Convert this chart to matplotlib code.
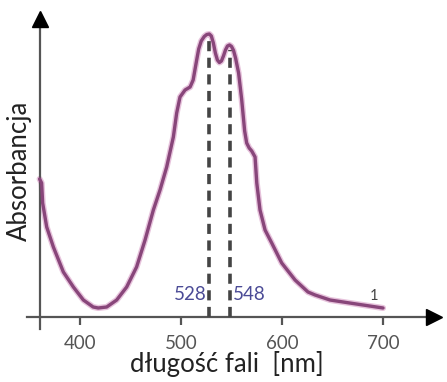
import matplotlib.pyplot as plt
import numpy as np

# absorption spectrum (arbitrary absorbance units)
wavelength = [360, 362, 363, 367, 373.6, 383.5, 393.4, 403.3, 413, 418, 426.4,
              436.3, 446.2, 456, 464.4, 472.6, 479.2, 485.8, 492.4, 495.7, 499,
              504, 509, 512, 515.5, 517.5, 520, 523, 525.5, 528, 530, 532, 534,
              536, 538, 540, 542, 544, 546, 548, 550, 552, 554, 557, 560, 563,
              565, 567.5, 570, 573.3, 575, 578.2, 583.2, 589.8, 599.7, 612.9,
              625.7, 632.7, 647.5, 667, 700]
absorbance = [138, 134, 114, 90, 70, 45, 30, 17, 10, 9, 10,
              17, 30, 50, 77, 107, 127, 150, 180, 204, 220,
              227, 230, 237, 257, 268, 276, 280.5, 282.5, 283, 281, 274, 264,
              257, 254.5, 256, 261, 267, 271, 272, 270.5, 266.5, 259, 244, 218, 186,
              174, 169, 166, 160, 134, 107, 87, 74, 54, 37,
              25, 22, 17, 14, 9]

peak_nm = [528, 548]
peak_top = [277, 267]
xticks = [400, 500, 600, 700]

curve_color = '#88467a'
axis_color = '#555555'

plt.rcParams['font.family'] = ['Lato', 'DejaVu Sans']

fig = plt.figure(figsize=(4.47, 3.82), dpi=100)
W, H = 447, 382
# axes placed in pixel terms: left 27, right 441, top 10, bottom 330
ax = fig.add_axes([27 / W, (H - 330) / H, (441 - 27) / W, (330 - 10) / H])
ax.set_xlim(347.5, 757.4)
ax.set_ylim(-13, 307)

ax.plot(wavelength, absorbance, color='#e7c3dc', lw=4.4, solid_joinstyle='round',
        solid_capstyle='round', zorder=2)
ax.plot(wavelength, absorbance, color=curve_color, lw=2.4, solid_joinstyle='round',
        solid_capstyle='round', zorder=3)

ax.vlines(peak_nm, 0, peak_top, colors='#444444', linestyles=(0, (2.8, 1.8)),
          lw=2.6, zorder=4)

ax.text(peak_nm[0] - 3, 17, str(peak_nm[0]), color='#4b4b96', fontsize=13.5,
        ha='right', va='baseline')
ax.text(peak_nm[1] + 3, 17, str(peak_nm[1]), color='#4b4b96', fontsize=13.5,
        ha='left', va='baseline')
ax.text(691, 17, '1', color='#444444', fontsize=10.5, ha='center', va='baseline')

# axes as arrows
for s in ['top', 'right']:
    ax.spines[s].set_visible(False)
ax.spines['bottom'].set_position(('data', 0))
ax.spines['bottom'].set_bounds(347.5, 745)
ax.spines['left'].set_position(('data', 360))
ax.spines['left'].set_bounds(-12, 295)
for s in ['bottom', 'left']:
    ax.spines[s].set_color(axis_color)
    ax.spines[s].set_linewidth(1.6)
ax.plot([750], [0], marker='>', color='black', markersize=11, clip_on=False, zorder=5)
ax.plot([360], [298], marker='^', color='black', markersize=11, clip_on=False, zorder=5)

ax.set_xticks(xticks)
ax.tick_params(axis='x', direction='out', length=6, width=1.6, color=axis_color,
               labelcolor='#555555', labelsize=13.5, pad=7)
ax.set_yticks([])

fig.text(227 / W, 1 - 364 / H, 'długość fali  [nm]', fontsize=18.5, color='#222222',
         ha='center', va='center')
fig.text(19 / W, 1 - 171 / H, 'Absorbancja', fontsize=18.5, color='#222222',
         ha='center', va='center', rotation=90)

fig.savefig('out.png', dpi=100)
